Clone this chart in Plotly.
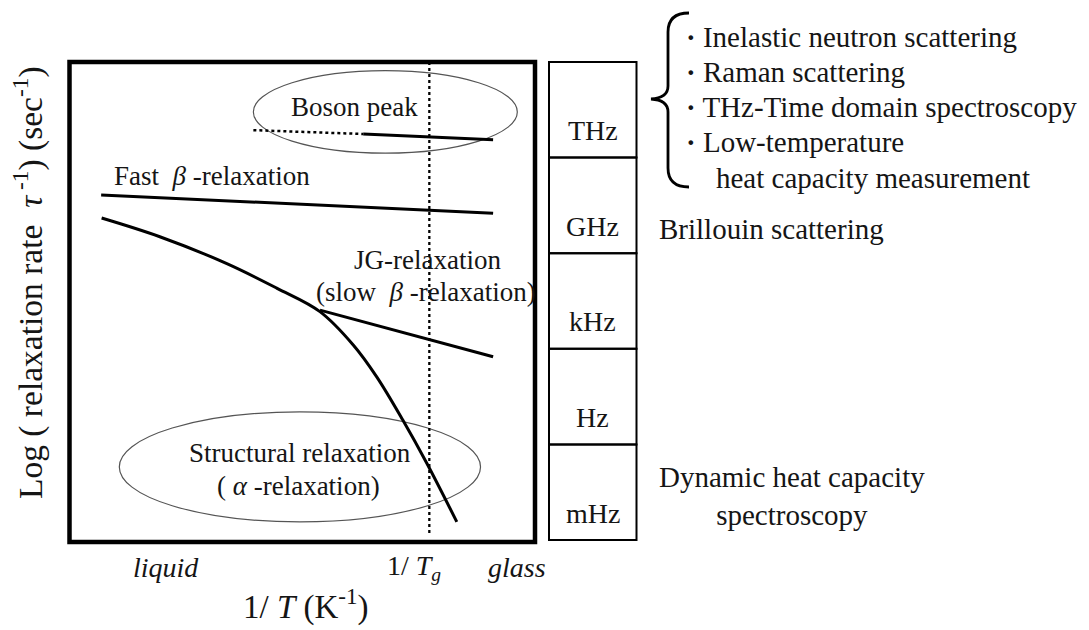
import plotly.graph_objects as go

W, H = 1089, 630
FONT = "Liberation Serif, Times New Roman, serif"
INK = "#151515"

# ---- schematic data (x = 1/T, arbitrary units 0-10; y = log rate, arbitrary units 0-10)
fast_beta_x = [0.68, 9.10]
fast_beta_y = [7.23, 6.85]

alpha_x = [0.69, 1.94, 3.38, 4.45, 5.38, 6.10, 6.60, 7.16, 7.67, 8.32]
alpha_y = [6.75, 6.36, 5.80, 5.29, 4.80, 4.10, 3.44, 2.54, 1.65, 0.42]

jg_x = [5.38, 9.10]
jg_y = [4.83, 3.86]

boson_dotted_x = [3.95, 6.31]
boson_dotted_y = [8.58, 8.50]
boson_solid_x = [6.31, 9.10]
boson_solid_y = [8.50, 8.38]

tg_x = [7.73, 7.73]
tg_y = [10.0, 0.19]

boson_ellipse = (3.95, 8.10, 9.62, 9.82)      # x0, y0, x1, y1
struct_ellipse = (1.07, 0.42, 8.83, 2.71)

freq_bands = ["THz", "GHz", "kHz", "Hz", "mHz"]

methods_thz = ["Inelastic neutron scattering", "Raman scattering",
               "THz-Time domain spectroscopy", "Low-temperature"]
methods_thz_cont = "heat capacity measurement"


def px(x):
    return x / W


def py(y):
    return 1 - y / H


# main panel placement (pixels)
BOX_L, BOX_R, BOX_T, BOX_B = 69.5, 535, 62, 542

fig = go.Figure()
line = dict(color="#000", width=3)
fig.add_trace(go.Scatter(x=fast_beta_x, y=fast_beta_y, mode="lines", line=line))
fig.add_trace(go.Scatter(x=alpha_x, y=alpha_y, mode="lines",
                         line=dict(color="#000", width=3, shape="spline", smoothing=1.0)))
fig.add_trace(go.Scatter(x=jg_x, y=jg_y, mode="lines", line=line))
fig.add_trace(go.Scatter(x=boson_solid_x, y=boson_solid_y, mode="lines", line=line))
fig.add_trace(go.Scatter(x=boson_dotted_x, y=boson_dotted_y, mode="lines",
                         line=dict(color="#000", width=2.5, dash="dot")))
fig.add_trace(go.Scatter(x=tg_x, y=tg_y, mode="lines",
                         line=dict(color="#000", width=2.3, dash="dot")))

shapes = []
for e in (boson_ellipse, struct_ellipse):
    shapes.append(dict(type="circle", xref="x", yref="y", x0=e[0], y0=e[1], x1=e[2], y1=e[3],
                       line=dict(color="#555", width=1.2), layer="below"))

# main frame
shapes.append(dict(type="rect", xref="paper", yref="paper",
                   x0=px(BOX_L), x1=px(BOX_R), y0=py(BOX_B), y1=py(BOX_T),
                   line=dict(color="#000", width=4.5)))

# frequency column
COL_L, COL_R, COL_T, COL_B = 549, 636.5, 62, 540
n = len(freq_bands)
cell = (COL_B - COL_T) / n
annotations = []
for i, lab in enumerate(freq_bands):
    top = COL_T + i * cell
    bot = top + cell
    shapes.append(dict(type="rect", xref="paper", yref="paper",
                       x0=px(COL_L), x1=px(COL_R), y0=py(bot), y1=py(top),
                       line=dict(color="#000", width=2)))
    annotations.append(dict(xref="paper", yref="paper", x=px((COL_L + COL_R) / 2),
                            y=py(bot - 27), text=lab, showarrow=False,
                            xanchor="center", yanchor="middle",
                            font=dict(family=FONT, size=28, color=INK)))

# curly brace
def P(x, y):
    return f"{px(x):.5f},{py(y):.5f}"

brace = (f"M {P(689,13)} Q {P(668,13)} {P(668,32)} L {P(668,86)} "
         f"Q {P(668,98)} {P(651,99)} Q {P(668,100)} {P(668,112)} "
         f"L {P(668,168)} Q {P(668,187)} {P(689,187)}")
shapes.append(dict(type="path", xref="paper", yref="paper", path=brace,
                   line=dict(color="#000", width=2.8)))

# right-hand method texts
bullet = "<b>·</b> "
for i, t in enumerate(methods_thz):
    annotations.append(dict(xref="paper", yref="paper", x=px(684), y=py(37 + i * 35),
                            text=bullet + t, showarrow=False, xanchor="left", yanchor="middle",
                            font=dict(family=FONT, size=29, color=INK)))
annotations.append(dict(xref="paper", yref="paper", x=px(714), y=py(178),
                        text=methods_thz_cont, showarrow=False, xanchor="left", yanchor="middle",
                        font=dict(family=FONT, size=29, color=INK)))
annotations.append(dict(xref="paper", yref="paper", x=px(657), y=py(229),
                        text="Brillouin scattering", showarrow=False, xanchor="left",
                        yanchor="middle", font=dict(family=FONT, size=29, color=INK)))
annotations.append(dict(xref="paper", yref="paper", x=px(792), y=py(496),
                        text="Dynamic heat capacity<br>spectroscopy", showarrow=False,
                        xanchor="center", yanchor="middle", align="center",
                        font=dict(family=FONT, size=29, color=INK)))

# in-panel labels (data coordinates)
inpanel = [
    (6.12, 9.06, "Boson peak"),
    (3.07, 7.63, "Fast  <i>β</i> -relaxation"),
    (7.69, 5.88, "JG-relaxation"),
    (7.66, 5.21, "(slow  <i>β</i> -relaxation)"),
    (4.95, 1.85, "Structural relaxation"),
    (4.91, 1.17, "( <i>α</i> -relaxation)"),
]
for x, y, t in inpanel:
    annotations.append(dict(xref="x", yref="y", x=x, y=y, text=t, showarrow=False,
                            xanchor="center", yanchor="middle",
                            font=dict(family=FONT, size=27, color=INK)))

# bottom labels
for x, t in [(166, "<i>liquid</i>"), (414, "1/ <i>T</i><sub><i>g</i></sub>"), (517, "<i>glass</i>")]:
    annotations.append(dict(xref="paper", yref="paper", x=px(x), y=py(567), text=t,
                            showarrow=False, xanchor="center", yanchor="middle",
                            font=dict(family=FONT, size=28, color=INK)))

annotations.append(dict(xref="paper", yref="paper", x=px(306), y=py(604),
                        text="1/ <i>T</i> (K<sup>-1</sup>)", showarrow=False,
                        xanchor="center", yanchor="middle",
                        font=dict(family=FONT, size=33, color=INK)))
annotations.append(dict(xref="paper", yref="paper", x=px(28), y=py(283),
                        text="Log ( relaxation rate  <i>τ</i><sup> -1</sup>) (sec<sup>-1</sup>)",
                        textangle=-90, showarrow=False, xanchor="center", yanchor="middle",
                        font=dict(family=FONT, size=33.5, color=INK)))

fig.update_layout(
    width=W, height=H, margin=dict(l=0, r=0, t=0, b=0),
    paper_bgcolor="white", plot_bgcolor="white", showlegend=False,
    xaxis=dict(domain=[px(BOX_L), px(BOX_R)], range=[0, 10], showgrid=False,
               zeroline=False, showticklabels=False, ticks=""),
    yaxis=dict(domain=[py(BOX_B), py(BOX_T)], range=[0, 10], showgrid=False,
               zeroline=False, showticklabels=False, ticks=""),
    shapes=shapes, annotations=annotations,
)

fig.write_html("out.html")
